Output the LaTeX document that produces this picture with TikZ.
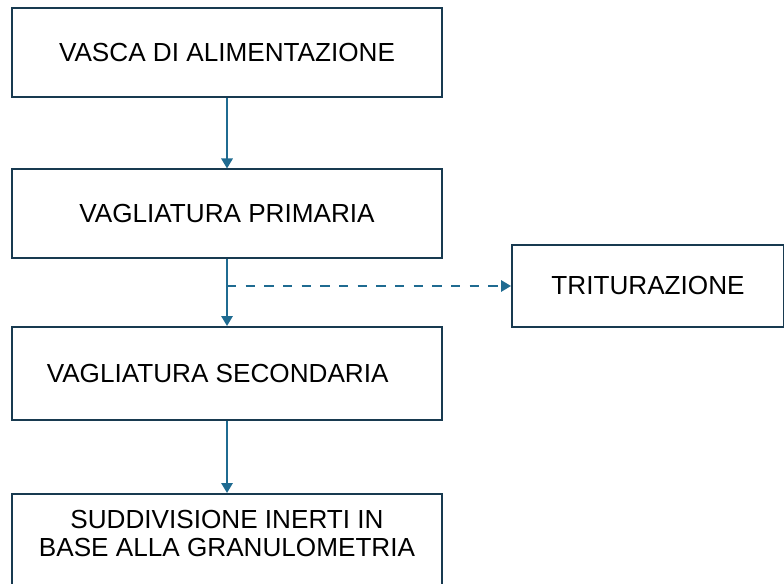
\documentclass[tikz,border=0pt]{standalone}
\usepackage{fontspec}
\setmainfont{Liberation Sans}
\usetikzlibrary{arrows.meta,positioning,calc}
\definecolor{boxline}{HTML}{183A50}
\definecolor{flowblue}{HTML}{1F6B91}

\tikzset{
  stage/.style={draw=boxline, line width=1.5pt, fill=white, minimum width=322.5pt,
                minimum height=66.75pt, align=center, font=\fontsize{19.6}{21.5}\selectfont},
  flow/.style={draw=flowblue, line width=1.5pt, -{Triangle[length=7.5pt,width=8.5pt]}}
}

\begin{document}
\begin{tikzpicture}[x=0.75pt, y=-0.75pt]
      \useasboundingbox (0,0) rectangle (784,584);
      \clip (0,0) rectangle (784,584);
      \node [stage] (vasca) at (227,52.5) {VASCA DI ALIMENTAZIONE};
      \node [stage] (vprim) at (227,214) {VAGLIATURA PRIMARIA};
      \node [stage, minimum height=69.75pt] (vsec) at (227,373.5) {\hspace*{-14pt}VAGLIATURA SECONDARIA};
      \node [stage, anchor=north, inner ysep=12pt, text depth=60pt] (inerti) at (227,493)
            {SUDDIVISIONE INERTI IN\\BASE ALLA GRANULOMETRIA};
      \node [stage, minimum width=204pt, minimum height=61.5pt] (trit) at (648,286) {TRITURAZIONE};
      \coordinate (split) at (vprim.south |- trit.west);
      \draw [flow] (vasca) -- (vprim);
      \draw [flow] (vprim) -- (vsec);
      \draw [flow] (vsec) -- (inerti);
      \draw [flow, dash pattern=on 7pt off 7pt] (split) -- (trit.west);
\end{tikzpicture}
\end{document}
